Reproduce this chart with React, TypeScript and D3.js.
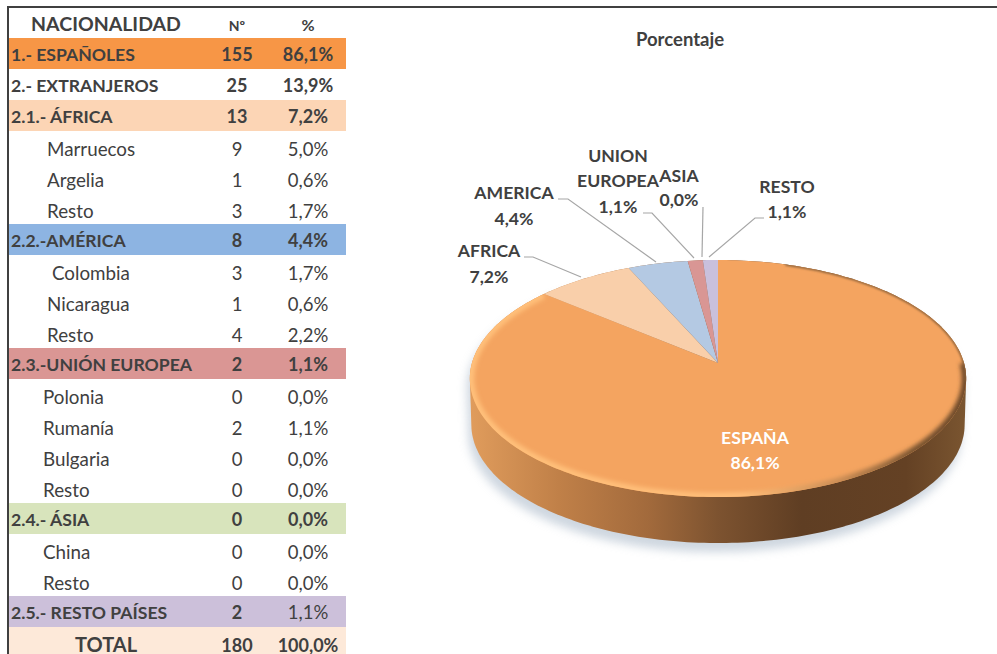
import * as d3 from 'd3';

const FONT = 'Lato, "Open Sans", sans-serif';
const INK = '#404040';

// table
const rowLabels = ['1.- ESPAÑOLES', '2.- EXTRANJEROS', '2.1.- ÁFRICA', 'Marruecos', 'Argelia', 'Resto', '2.2.-AMÉRICA', 'Colombia', 'Nicaragua', 'Resto', '2.3.-UNIÓN EUROPEA', 'Polonia', 'Rumanía', 'Bulgaria', 'Resto', '2.4.- ÁSIA', 'China', 'Resto', '2.5.- RESTO PAÍSES', 'TOTAL'];
const rowCounts = [155, 25, 13, 9, 1, 3, 8, 3, 1, 4, 2, 0, 2, 0, 0, 0, 0, 0, 2, 180];
const rowPercents = ['86,1%', '13,9%', '7,2%', '5,0%', '0,6%', '1,7%', '4,4%', '1,7%', '0,6%', '2,2%', '1,1%', '0,0%', '1,1%', '0,0%', '0,0%', '0,0%', '0,0%', '0,0%', '1,1%', '100,0%'];

// pie
const sliceNames = ['ESPAÑA', 'AFRICA', 'AMERICA', 'UNION EUROPEA', 'ASIA', 'RESTO'];
const sliceCounts = [155, 13, 8, 2, 0, 2];
const slicePercents = ['86,1%', '7,2%', '4,4%', '1,1%', '0,0%', '1,1%'];

const rowFill: Record<number, string> = { 0: '#f79646', 2: '#fcd5b5', 6: '#8db4e2', 10: '#da9694', 15: '#d8e4bc', 18: '#ccc0da', 19: '#fde9d9' };
const rowIndent: Record<number, number> = { 3: 47, 4: 47, 5: 47, 7: 52, 8: 47, 9: 47, 11: 43, 12: 43, 13: 43, 14: 43, 16: 43, 17: 43 };
const sliceFill = ['#f4a460', '#f9cfaa', '#b4c9e3', '#d99694', '#c3d69b', '#c9c0dc'];

// label lines and leader elbows per slice (screen layout)
const labelLayout = [
  { x: 755, ys: [438, 463] },
  { x: 489, ys: [251, 277], leader: [[581, 277], [533, 257], [524, 257]] },
  { x: 514, ys: [193, 219], leader: [[656, 262], [568, 199], [558, 199]] },
  { x: 618, ys: [156, 181, 207], leader: [[694, 258], [652, 213], [643, 213]] },
  { x: 679, ys: [176, 200], leader: [[702, 257], [703, 207]] },
  { x: 787, ys: [187, 212], leader: [[709, 257], [755, 218], [764, 218]] },
];

const ROW_H = 31;
const ROW_TOP = 38;
const COL_N = 237;
const COL_P = 308;

// the disc is drawn in perspective: far rim is squeezed, apex sits above ellipse middle
const CX = 718;
const CY = 363;
const R = 246;
const H = 116.5;
const K = 0.131;
const DEPTH = 46;

function project(theta: number, r = 1): [number, number] {
  const u = r * Math.sin(theta);
  const v = r * Math.cos(theta);
  const w = 1 + K * v;
  return [CX + (R * u) / w, CY - (H * v) / w];
}

const line = d3.line();
const arcPts = (a: number, b: number) => {
  const n = Math.max(2, Math.ceil((b - a) / 0.02));
  return d3.range(n + 1).map(i => project(a + ((b - a) * i) / n));
};

const rim = arcPts(0, Math.PI * 2);
const hull = d3.polygonHull([...rim, ...rim.map(([x, y]) => [x + (x - CX) * -0.006, y + DEPTH] as [number, number])])!;
const arcs = d3.pie<number>().sort(null).value(d => d)(sliceCounts);

function Row({ i }: { i: number }) {
  const y = ROW_TOP + i * ROW_H;
  const indent = rowIndent[i];
  const sub = indent !== undefined;
  const total = i === rowLabels.length - 1;
  const mid = y + ROW_H / 2 + (sub || total ? 9 : 7);
  const weight = sub ? 400 : 700;
  const light = sub || i === 18;
  return (
    <g fill={INK}>
      {rowFill[i] && <rect x={9} y={y} width={337} height={ROW_H} fill={rowFill[i]} />}
      <text x={total ? 106 : sub ? indent : 11} y={mid} textAnchor={total ? 'middle' : 'start'} fontWeight={weight} fontSize={total ? 20 : sub ? 18.8 : 17.6}>{rowLabels[i]}</text>
      <text x={COL_N} y={mid} textAnchor="middle" fontWeight={weight} fontSize={sub ? 18.5 : 18}>{rowCounts[i]}</text>
      <text x={COL_P} y={mid} textAnchor="middle" fontWeight={light ? 400 : 700} fontSize={light ? 18.5 : 18}>{rowPercents[i]}</text>
    </g>
  );
}

export default function App() {
  return (
    <svg width={997} height={654} style={{ position: 'fixed', left: 0, top: 0, display: 'block', background: '#fff' }} fontFamily={FONT}>
      <defs>
        <linearGradient id="side" gradientUnits="userSpaceOnUse" x1={470} x2={965} y1={0} y2={0}>
          <stop offset="0" stopColor="#e09c5c" />
          <stop offset="0.18" stopColor="#c08048" />
          <stop offset="0.36" stopColor="#a26a3c" />
          <stop offset="0.5" stopColor="#7d5330" />
          <stop offset="0.67" stopColor="#5f3e23" />
          <stop offset="0.88" stopColor="#644124" />
          <stop offset="1" stopColor="#7a5530" />
        </linearGradient>
        <linearGradient id="bevel" gradientUnits="userSpaceOnUse" x1={470} x2={965} y1={0} y2={0}>
          <stop offset="0" stopColor="#ffc07a" />
          <stop offset="0.55" stopColor="#ffbd78" />
          <stop offset="0.75" stopColor="#c98c54" />
          <stop offset="0.9" stopColor="#7a5430" />
          <stop offset="1" stopColor="#6e4a2a" />
        </linearGradient>
        <filter id="blur1" x="-10%" y="-10%" width="120%" height="120%"><feGaussianBlur stdDeviation={1} /></filter>
        <filter id="blur2" x="-10%" y="-10%" width="120%" height="120%"><feGaussianBlur stdDeviation={2} /></filter>
        <filter id="blur6" x="-10%" y="-20%" width="120%" height="140%"><feGaussianBlur stdDeviation={5} /></filter>
        <clipPath id="face"><path d={line(rim)! + 'Z'} /></clipPath>
      </defs>

      <rect x={7} y={6} width={990} height={2} fill="#404040" />
      <rect x={7} y={6} width={2} height={648} fill="#404040" />

      <text x={106} y={31} textAnchor="middle" fontWeight={700} fontSize={19.5} fill={INK}>NACIONALIDAD</text>
      <text x={COL_N} y={31} textAnchor="middle" fontWeight={700} fontSize={14} fill={INK}>Nº</text>
      <text x={COL_P} y={31} textAnchor="middle" fontWeight={700} fontSize={16} fill={INK}>%</text>
      {rowLabels.map((_, i) => <Row key={i} i={i} />)}

      <text x={680} y={46} textAnchor="middle" fontWeight={700} fontSize={18.5} fill={INK}>Porcentaje</text>

      <path d={line(hull)! + 'Z'} transform="translate(-3,9)" fill="#aebccb" opacity={0.6} filter="url(#blur6)" />
      <path d={line(hull)! + 'Z'} fill="url(#side)" />
      {arcs.filter(a => a.endAngle > a.startAngle).map(a => (
        <path key={a.index} d={line([[CX, CY], ...arcPts(a.startAngle, a.endAngle)])! + 'Z'} fill={sliceFill[a.index]} />
      ))}
      <g clipPath="url(#face)">
        <path d={line(arcPts(Math.PI * 0.5, Math.PI * 1.72))!} fill="none" stroke="url(#bevel)" strokeWidth={9} filter="url(#blur2)" />
        <path d={line(arcPts(Math.PI * 0.1, Math.PI * 0.55))!} fill="none" stroke="#8a6038" strokeWidth={2.5} filter="url(#blur1)" />
      </g>

      {labelLayout.map((l, i) => (
        l.leader && <path key={i} d={line(l.leader as [number, number][])!} fill="none" stroke="#a6a6a6" strokeWidth={1.2} />
      ))}
      {labelLayout.map((l, i) => {
        const lines = i === 3 ? sliceNames[i].split(' ') : [sliceNames[i]];
        return (
          <text key={i} textAnchor="middle" fontWeight={700} fontSize={17.6} fill={i === 0 ? '#fff' : INK}>
            {[...lines, slicePercents[i]].map((t, j) => <tspan key={j} x={l.x} y={l.ys[j] + 6}>{t}</tspan>)}
          </text>
        );
      })}
    </svg>
  );
}
